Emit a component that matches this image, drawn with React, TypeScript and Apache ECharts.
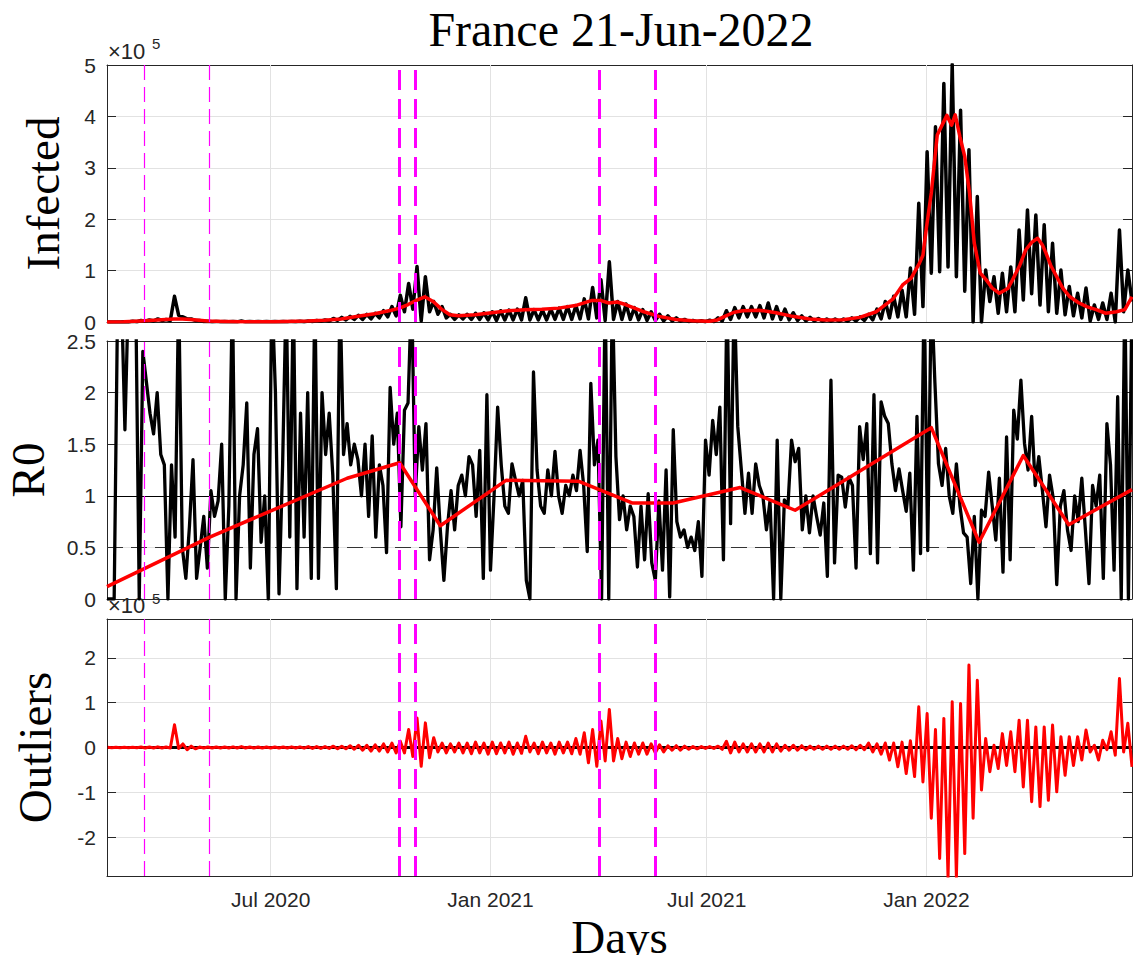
import React, { useEffect, useRef } from 'react';
import * as echarts from 'echarts';

const DAY = 86400000;
const START = Date.UTC(2020, 1, 15);
const END = START + 858 * DAY;

const xTickDates = ['2020-07-01', '2021-01-01', '2021-07-01', '2022-01-01'];
const xTickLabels = ['Jul 2020', 'Jan 2021', 'Jul 2021', 'Jan 2022'];
const thinEventDates = ['2020-03-17', '2020-05-11'];
const thickEventDates = ['2020-10-17', '2020-10-30', '2021-04-02', '2021-05-19'];

// Infected (thousands), one weekday high and one weekend low per week from 15-Feb-2020
const infectedWeekHigh = [
  0.05, 0.1, 0.3, 1.5, 3, 4, 6, 5, 50, 10,
  6, 3, 1.5, 1.2, 1, 1, 2, 0.8, 0.8, 0.8,
  1, 1, 1.2, 1.5, 2, 3, 4, 7, 9, 11,
  13, 15, 17, 22, 30, 52, 75, 108, 88, 40,
  30, 15, 14, 15, 17, 18, 20, 22, 23, 25,
  47, 24, 23, 25, 27, 30, 32, 45, 67, 82,
  117, 40, 35, 28, 24, 20, 15, 12, 8, 5,
  3, 2.5, 3.5, 8, 22, 28, 30, 30, 32, 37,
  30, 25, 18, 12, 9, 7, 6, 6, 6, 8,
  10, 15, 25, 40, 50, 62, 105, 231, 331, 380,
  464, 501, 412, 335, 244, 101, 88, 95, 107, 179,
  218, 208, 189, 153, 101, 69, 56, 66, 33, 37,
  56, 179, 101,
];
const infectedWeekLow = [
  0, 0, 0.1, 0.5, 1.5, 2, 3, 3, 13, 6,
  3, 1, 0.5, 0.4, 0.3, 0.3, 0.3, 0.3, 0.3, 0.3,
  0.4, 0.4, 0.5, 0.5, 1, 1.5, 2, 3, 4, 5,
  5, 6, 8, 10, 12, 20, 25, 2, 20, 15,
  8, 5, 6, 5, 5, 4, 3, 4, 4, 4,
  4, 4, 4, 5, 5, 5, 6, 6, 8, 3,
  5, 5, 5, 4, 3, 3, 2, 2, 1.5, 1,
  0.8, 0.6, 0.8, 2, 5, 8, 10, 10, 8, 6,
  5, 4, 3, 2, 2, 1.5, 1.5, 1.5, 1.5, 2,
  3, 4, 6, 8, 10, 10, 15, 30, 95, 98,
  107, 88, 60, 0, 0, 40, 17, 20, 20, 43,
  55, 33, 20, 17, 14, 12, 8, 2, 5, 5,
  0, 20, 40,
];

// Smoothed infected (thousands)
const smoothDays = [
  0, 14, 28, 42, 56, 63, 70, 84, 98, 112,
  140, 168, 182, 196, 210, 224, 238, 245, 252, 259,
  266, 273, 280, 287, 294, 308, 322, 336, 350, 364,
  378, 392, 406, 413, 420, 427, 434, 448, 462, 476,
  490, 504, 511, 518, 525, 532, 546, 560, 574, 588,
  602, 616, 630, 644, 658, 666, 673, 680, 683, 686,
  690, 695, 699, 703, 707, 710, 714, 718, 722, 726,
  731, 736, 741, 747, 754, 758, 764, 769, 774, 779,
  783, 786, 790, 795, 800, 806, 813, 820, 828, 836,
  845, 852, 858,
];
const smoothValues = [
  0.2, 0.3, 2, 4, 6, 6, 5, 2, 1, 0.7,
  0.7, 2, 3.5, 6, 11, 16, 23, 27, 34, 42,
  49, 40, 25, 14, 12, 14, 18, 22, 24, 25,
  27, 32, 42, 42, 37, 39, 34, 21, 11, 5,
  2.5, 1.5, 4, 12, 19, 22, 23, 18, 11, 6,
  4, 4.5, 9, 20, 45, 72, 85, 114, 130, 185,
  251, 364, 383, 402, 383, 403, 360, 322, 251, 153,
  95, 82, 66, 56, 65, 82, 110, 140, 155, 163,
  150, 134, 110, 88, 66, 49, 38, 30, 24, 17,
  20, 24, 49,
];

// R0, one value every 3 days from 15-Feb-2020 (values above 2.5 leave the panel)
const r0Values = [
  0, 0, 0, 3, 3, 1.64, 3, 3, 3, 0,
  2.4, 2.1, 1.8, 1.6, 2.0, 1.4, 1.3, 0, 1.3, 0.6,
  3, 0.5, 0.2, 0.7, 1.35, 0.2, 0.5, 0.8, 0.3, 1.05,
  0.8, 0.95, 1.5, 0, 0.9, 3, 0, 1.0, 1.3, 1.9,
  0.3, 1.4, 1.65, 0.55, 1.0, 0, 3, 2.0, 0.05, 1.3,
  3, 0.6, 3, 0.1, 1.8, 0.6, 2.0, 0.2, 3, 0.2,
  2.0, 1.4, 1.8, 1.2, 0.1, 3, 1.4, 1.7, 1.3, 1.5,
  1.35, 1.0, 1.5, 0.8, 1.58, 0.6, 1.3, 1.1, 0.45, 2.05,
  1.5, 1.8, 0.7, 1.83, 1.9, 3, 1.0, 1.67, 1.25, 1.7,
  0.38, 0.67, 1.27, 0.67, 0.18, 0.7, 1.05, 0.67, 1.1, 1.2,
  1.0, 1.38, 1.3, 0.8, 1.44, 0.2, 1.98, 0.28, 1.0, 1.86,
  1.3, 0.9, 0.83, 1.31, 1.15, 1.0, 1.15, 0.18, 0.0, 2.2,
  1.25, 0.9, 0.83, 1.25, 1.0, 1.43, 1.0, 0.83, 1.1, 1.0,
  1.2, 1.05, 1.44, 1.1, 0.46, 2.09, 1.3, 1.54, 0, 3,
  0, 3, 1.38, 0.77, 1.0, 0.67, 0.9, 0.8, 0.31, 0.9,
  0.38, 1.02, 0.35, 0.18, 0.95, 0.28, 1.25, 0.02, 1.64, 0.75,
  0.6, 0.67, 0.5, 0.6, 0.47, 0.75, 0.22, 1.54, 1.2, 1.73,
  1.4, 1.86, 0.38, 3, 0.73, 3, 1.67, 1.25, 0.83, 1.22,
  0.83, 1.31, 1.1, 1.0, 0.67, 0.95, 0.0, 1.54, 0, 0.96,
  0.9, 1.54, 1.33, 1.46, 0.67, 1.0, 0.64, 1.0, 0.8, 0.62,
  0.93, 0.22, 2.12, 0.35, 1.2, 1.18, 0.89, 1.18, 1.1, 0.3,
  1.67, 1.35, 1.7, 0.44, 1.98, 0.35, 1.91, 1.77, 1.7, 1.31,
  1.05, 1.26, 1.05, 0.85, 1.22, 0.28, 1.77, 0.44, 3, 0.47,
  3, 2.1, 1.31, 1.1, 1.46, 1.0, 0.83, 1.31, 0.9, 0.64,
  0.6, 0.15, 0.8, 0, 0.86, 0.8, 1.23, 0.9, 0.57, 1.17,
  0.26, 1.57, 0.38, 1.83, 1.55, 2.12, 1.51, 1.25, 1.77, 1.1,
  1.38, 1.05, 0.7, 1.2, 0.98, 0.14, 0.9, 1.05, 0.67, 0.47,
  1.0, 0.75, 1.17, 0.67, 0.15, 1.1, 0.9, 1.2, 0.2, 1.7,
  1.3, 0.28, 1.96, 0, 3, 0, 3,
];

// Piecewise R0 trend
const r0TrendDays = [0, 86, 201, 245, 279, 334, 395, 440, 474, 530, 576, 690, 730, 767, 805, 858];
const r0TrendValues = [0.12, 0.6, 1.17, 1.32, 0.71, 1.15, 1.14, 0.93, 0.93, 1.08, 0.86, 1.66, 0.55, 1.39, 0.72, 1.06];
const r0Reference = 1;
const r0Half = 0.5;

// Outliers (thousands), one positive and one negative excursion per week
const outlierWeekHigh = [
  0.5, 0.5, 0.5, 0.5, 1, 1, 1.5, 1, 51, 8,
  3, 1, 1, 1, 1, 1.5, 2, 1, 1, 1,
  1, 1, 1.5, 1.5, 2, 2, 2, 3, 3, 4,
  5, 5, 6, 8, 10, 14, 40, 66, 55, 22,
  10, 8, 10, 10, 12, 10, 12, 10, 12, 10,
  25, 10, 12, 10, 12, 12, 20, 33, 40, 59,
  85, 20, 12, 10, 10, 8, 6, 4, 4, 3,
  2, 2, 2, 3, 14, 12, 8, 8, 8, 10,
  8, 5, 5, 4, 3, 3, 3, 3, 3, 4,
  5, 10, 8, 10, 10, 12, 15, 91, 76, 40,
  65, 102, 98, 184, 150, 20, 5, 31, 35, 61,
  61, 46, 46, 50, 24, 24, 24, 39, 5, 16,
  35, 154, 54,
];
const outlierWeekLow = [
  -0.5, -0.5, -0.5, -0.5, -1, -1, -1, -1, -2, -5,
  -3, -1, -1, -1, -1, -1, -1, -1, -1, -1,
  -1, -1, -1, -1.5, -2, -2, -2, -3, -3, -4,
  -6, -8, -8, -10, -12, -12, -20, -42, -23, -10,
  -12, -10, -12, -14, -12, -15, -14, -12, -15, -13,
  -10, -14, -12, -15, -12, -14, -15, -34, -42, -30,
  -30, -25, -20, -15, -15, -12, -10, -6, -6, -4,
  -3, -2, -2, -4, -12, -10, -10, -10, -10, -10,
  -8, -6, -6, -5, -4, -4, -4, -4, -4, -5,
  -5, -10, -15, -28, -43, -58, -65, -77, -158, -248,
  -290, -290, -237, -158, -95, -54, -47, -40, -54, -88,
  -121, -132, -118, -99, -62, -40, -28, -10, -28, -5,
  -17, -10, -43,
];
const outlierBaseline = 0;

const outlierTicks = [-200, -100, 0, 100, 200];

const SANS = 'Liberation Sans, Arial, Helvetica, sans-serif';
const SERIF = 'Liberation Serif, Times New Roman, serif';
const AXIS = '#262626';
const GRIDC = '#e2e2e2';
const MAGENTA = '#ff00ff';

const toTs = (d: string) => Date.parse(d + 'T00:00:00Z');
const tickTimes = xTickDates.map(toTs);
const dayTs = (d: number) => START + d * DAY;

const weekly = (hi: number[], lo: number[]) => {
  const out: [number, number][] = [];
  hi.forEach((h, w) => {
    out.push([dayTs(7 * w + 0.5), h]);
    out.push([dayTs(7 * w + 4), lo[w]]);
  });
  return out;
};

const lineCommon = {
  type: 'line',
  showSymbol: false,
  symbol: 'none',
  animation: false,
  silent: true,
  emphasis: { disabled: true },
};

// a data-less series that only carries reference lines
const refSeries = (name: string, axisIndex: number, z: number, lineStyle: any, data: any[]) => ({
  ...lineCommon,
  name,
  xAxisIndex: axisIndex,
  yAxisIndex: axisIndex,
  z,
  data: [],
  markLine: {
    silent: true,
    symbol: ['none', 'none'],
    label: { show: false },
    animation: false,
    z,
    lineStyle,
    emphasis: { disabled: true },
    data,
  },
});

const xFmt = (v: number) => {
  const i = tickTimes.indexOf(v);
  return i >= 0 ? xTickLabels[i] : '';
};

const makeX = (gridIndex: number, top: boolean) => ({
  type: 'value',
  gridIndex,
  min: START,
  max: END,
  position: top ? 'top' : 'bottom',
  axisLine: { show: true, onZero: false, lineStyle: { color: AXIS, width: 1 } },
  axisTick: { show: true, inside: true, length: 9, customValues: tickTimes, lineStyle: { color: AXIS, width: 1 } },
  axisLabel: {
    show: !top && gridIndex === 2,
    customValues: tickTimes,
    formatter: xFmt,
    fontSize: 21,
    color: AXIS,
    fontFamily: SANS,
    margin: 13,
  },
  splitLine: { show: false },
  name: !top && gridIndex === 2 ? 'Days' : '',
  nameLocation: 'middle',
  nameGap: 37,
  nameMoveOverlap: false,
  nameTextStyle: { fontFamily: SERIF, fontSize: 47, color: '#000' },
});

const makeY = (gridIndex: number, right: boolean) => {
  const base: any = {
    type: 'value',
    gridIndex,
    position: right ? 'right' : 'left',
    axisLine: { show: true, onZero: false, lineStyle: { color: AXIS, width: 1 } },
    axisTick: { show: true, inside: true, length: 9, lineStyle: { color: AXIS, width: 1 } },
    axisLabel: { show: !right, fontSize: 21, color: AXIS, fontFamily: SANS, margin: 11 },
    splitLine: { show: !right, lineStyle: { color: GRIDC, width: 1 } },
    nameLocation: 'middle',
    nameMoveOverlap: false,
    nameTextStyle: { fontFamily: SERIF, fontSize: 47, color: '#000' },
  };
  if (gridIndex === 0) {
    base.min = 0;
    base.max = 500;
    base.interval = 100;
    base.nameGap = 41;
    base.axisLabel.formatter = (v: number) => String(Math.round(v / 100));
    if (!right) base.name = 'Infected';
  } else if (gridIndex === 1) {
    base.min = 0;
    base.max = 2.5;
    base.interval = 0.5;
    base.nameGap = 59;
    base.nameTextStyle = { fontFamily: SERIF, fontSize: 47, color: '#000', lineHeight: 40 };
    if (!right) base.name = 'R0';
  } else {
    base.min = -287;
    base.max = 287;
    base.nameGap = 49;
    base.axisTick.customValues = outlierTicks;
    base.axisLabel.customValues = outlierTicks;
    base.axisLabel.formatter = (v: number) => String(Math.round(v / 100));
    if (!right) base.name = 'Outliers';
  }
  return base;
};

export default function App() {
  const ref = useRef<HTMLDivElement>(null);

  useEffect(() => {
    document.body.style.margin = '0';
    if (!ref.current) return;
    const chart = echarts.init(ref.current, undefined, { renderer: 'svg' });

    const gridBox = { left: 107, width: 1025, outerBoundsMode: 'none', containLabel: false };
    const thinStyle = { color: MAGENTA, width: 1.2, type: [15, 7], opacity: 1 };
    const thickStyle = { color: MAGENTA, width: 3, type: [20, 9], opacity: 1 };
    const gridStyle = { color: GRIDC, width: 1, type: 'solid' };

    const refs: any[] = [];
    [0, 2, 4].forEach((ax, k) => {
      refs.push(refSeries('Grid ' + k, ax, 1, gridStyle, tickTimes.map((t) => ({ xAxis: t }))));
      refs.push(refSeries('Events A ' + k, ax, 6, thinStyle, thinEventDates.map((d) => ({ xAxis: toTs(d) }))));
      refs.push(refSeries('Events B ' + k, ax, 6, thickStyle, thickEventDates.map((d) => ({ xAxis: toTs(d) }))));
    });
    refs.push(refSeries('R0 = 1', 2, 2, { color: '#000', width: 1.2, type: 'solid' }, [{ yAxis: r0Reference }]));
    refs.push(refSeries('R0 = 0.5', 2, 2, { color: '#333', width: 1.2, type: [16, 8] }, [{ yAxis: r0Half }]));
    refs.push(refSeries('Outlier baseline', 4, 2, { color: '#000', width: 3, type: 'solid' }, [{ yAxis: outlierBaseline }]));

    const option: any = {
      animation: false,
      backgroundColor: '#ffffff',
      grid: [
        { ...gridBox, top: 65, height: 257 },
        { ...gridBox, top: 341, height: 258 },
        { ...gridBox, top: 619, height: 257 },
      ],
      xAxis: [makeX(0, false), makeX(0, true), makeX(1, false), makeX(1, true), makeX(2, false), makeX(2, true)],
      yAxis: [makeY(0, false), makeY(0, true), makeY(1, false), makeY(1, true), makeY(2, false), makeY(2, true)],
      graphic: [
        {
          type: 'text',
          x: 621,
          y: 29,
          style: { text: 'France 21-Jun-2022', fontFamily: SERIF, fontSize: 48, fill: '#000', align: 'center', verticalAlign: 'middle' },
        },
        { type: 'text', x: 108, y: 51, style: { text: '×10', fontFamily: SANS, fontSize: 22, fill: AXIS, verticalAlign: 'middle' } },
        { type: 'text', x: 152, y: 43, style: { text: '5', fontFamily: SANS, fontSize: 15, fill: AXIS, verticalAlign: 'middle' } },
        { type: 'text', x: 108, y: 605, style: { text: '×10', fontFamily: SANS, fontSize: 22, fill: AXIS, verticalAlign: 'middle' } },
        { type: 'text', x: 152, y: 598, style: { text: '5', fontFamily: SANS, fontSize: 15, fill: AXIS, verticalAlign: 'middle' } },
      ],
      series: [
        ...refs,
        {
          ...lineCommon,
          name: 'Infected',
          xAxisIndex: 0,
          yAxisIndex: 0,
          z: 3,
          data: weekly(infectedWeekHigh, infectedWeekLow),
          lineStyle: { color: '#000', width: 3.5, join: 'round' },
        },
        {
          ...lineCommon,
          name: 'Infected smoothed',
          xAxisIndex: 0,
          yAxisIndex: 0,
          z: 4,
          data: smoothDays.map((d, i) => [dayTs(d), smoothValues[i]]),
          lineStyle: { color: '#ff0000', width: 3.5, join: 'round' },
        },
        {
          ...lineCommon,
          name: 'R0',
          xAxisIndex: 2,
          yAxisIndex: 2,
          z: 3,
          data: r0Values.map((v, i) => [dayTs(3 * i), v]),
          lineStyle: { color: '#000', width: 3.3, join: 'round' },
        },
        {
          ...lineCommon,
          name: 'R0 trend',
          xAxisIndex: 2,
          yAxisIndex: 2,
          z: 4,
          data: r0TrendDays.map((d, i) => [dayTs(d), r0TrendValues[i]]),
          lineStyle: { color: '#ff0000', width: 3.5, join: 'round' },
        },
        {
          ...lineCommon,
          name: 'Outliers',
          xAxisIndex: 4,
          yAxisIndex: 4,
          z: 4,
          data: weekly(outlierWeekHigh, outlierWeekLow),
          lineStyle: { color: '#ff0000', width: 3, join: 'round' },
        },
      ],
    };

    chart.setOption(option);
    return () => chart.dispose();
  }, []);

  return <div ref={ref} style={{ width: 1133, height: 955 }} />;
}
